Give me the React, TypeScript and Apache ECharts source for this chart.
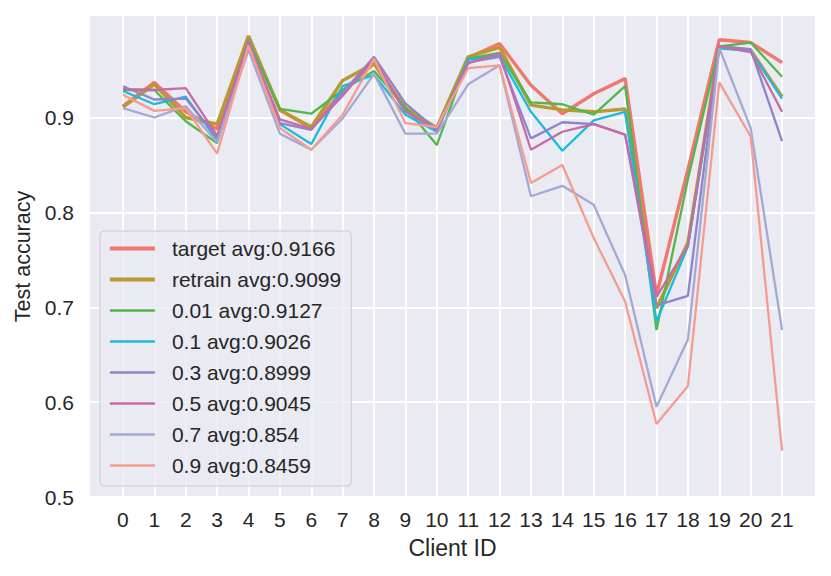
import React, { useEffect, useRef } from "react";
import * as echarts from "echarts";

const clients = [0, 1, 2, 3, 4, 5, 6, 7, 8, 9, 10, 11, 12, 13, 14, 15, 16, 17, 18, 19, 20, 21];
const yTicks = [0.5, 0.6, 0.7, 0.8, 0.9];

const seriesNames = [
  "target avg:0.9166",
  "retrain avg:0.9099",
  "0.01 avg:0.9127",
  "0.1 avg:0.9026",
  "0.3 avg:0.8999",
  "0.5 avg:0.9045",
  "0.7 avg:0.854",
  "0.9 avg:0.8459",
];

const target = [0.912, 0.937, 0.906, 0.888, 0.985, 0.908, 0.889, 0.928, 0.957, 0.908, 0.889, 0.963, 0.978, 0.934, 0.904, 0.925, 0.941, 0.713, 0.845, 0.982, 0.979, 0.958];
const retrain = [0.911, 0.935, 0.900, 0.893, 0.986, 0.908, 0.890, 0.939, 0.957, 0.910, 0.889, 0.964, 0.974, 0.913, 0.908, 0.906, 0.909, 0.699, 0.768, 0.975, 0.971, 0.922];
const p001 = [0.929, 0.929, 0.896, 0.873, 0.982, 0.909, 0.904, 0.929, 0.949, 0.911, 0.871, 0.962, 0.968, 0.916, 0.914, 0.903, 0.933, 0.676, 0.835, 0.975, 0.979, 0.943];
const p01 = [0.928, 0.914, 0.922, 0.876, 0.979, 0.893, 0.872, 0.933, 0.945, 0.903, 0.885, 0.961, 0.965, 0.906, 0.865, 0.897, 0.906, 0.685, 0.764, 0.973, 0.970, 0.920];
const p03 = [0.933, 0.919, 0.920, 0.879, 0.981, 0.894, 0.887, 0.926, 0.964, 0.915, 0.887, 0.958, 0.964, 0.878, 0.895, 0.893, 0.882, 0.702, 0.712, 0.975, 0.972, 0.875];
const p05 = [0.930, 0.929, 0.931, 0.881, 0.979, 0.898, 0.888, 0.923, 0.962, 0.906, 0.887, 0.957, 0.968, 0.866, 0.885, 0.893, 0.882, 0.711, 0.765, 0.975, 0.969, 0.906];
const p07 = [0.910, 0.900, 0.912, 0.874, 0.971, 0.883, 0.866, 0.899, 0.946, 0.883, 0.883, 0.935, 0.955, 0.817, 0.828, 0.808, 0.734, 0.595, 0.666, 0.973, 0.889, 0.676];
const p09 = [0.924, 0.907, 0.910, 0.862, 0.976, 0.889, 0.866, 0.903, 0.962, 0.894, 0.890, 0.952, 0.955, 0.831, 0.850, 0.773, 0.706, 0.577, 0.617, 0.937, 0.880, 0.549];

const seriesValues = [target, retrain, p001, p01, p03, p05, p07, p09];
const colors = ["#F0776E", "#B99A2E", "#52B64A", "#1ABBE0", "#8F84C8", "#C46BA8", "#A3A9D4", "#F59C90"];
const widths = [3.4, 3.4, 2.3, 2.3, 2.3, 2.3, 2.3, 2.3];

const FONT = "'Liberation Sans', Arial, sans-serif";
const TXT = "#262626";

export default function App() {
  const ref = useRef<HTMLDivElement>(null);
  useEffect(() => {
    if (!ref.current) return;
    const chart = echarts.init(ref.current, undefined, { renderer: "svg" });
    const gridLines = [
      ...clients.map((v) => ({ xAxis: v })),
      ...yTicks.map((v) => ({ yAxis: v })),
    ];
    const series: any[] = [
      {
        name: "grid",
        type: "line",
        data: [],
        z: 1,
        silent: true,
        markLine: {
          z: 1,
          silent: true,
          symbol: ["none", "none"],
          label: { show: false },
          emphasis: { disabled: true },
          lineStyle: { color: "#ffffff", width: 1.8, type: "solid" },
          data: gridLines,
        },
      },
      ...seriesNames.map((name, i) => ({
        name,
        type: "line",
        data: clients.map((c, j) => [c, seriesValues[i][j]]),
        showSymbol: false,
        symbol: "none",
        z: 8,
        lineStyle: { color: colors[i], width: widths[i] },
        itemStyle: { color: colors[i] },
        emphasis: { disabled: true },
      })),
    ];
    chart.setOption({
      animation: false,
      backgroundColor: "#ffffff",
      grid: {
        left: 90,
        right: 16,
        top: 16,
        bottom: 79,
        show: true,
        backgroundColor: "#EAEAF2",
        borderWidth: 0,
      },
      xAxis: {
        type: "value",
        min: -1.05,
        max: 22.05,
        name: "Client ID",
        nameLocation: "middle",
        nameGap: 39,
        nameTextStyle: { fontFamily: FONT, fontSize: 23, color: TXT },
        axisLine: { show: false },
        axisTick: { show: false },
        splitLine: { show: false },
        axisLabel: {
          customValues: clients,
          fontFamily: FONT,
          fontSize: 21,
          color: TXT,
          margin: 12,
          formatter: (v: number) => String(Math.round(v)),
        },
      },
      yAxis: {
        type: "value",
        min: 0.5,
        max: 1.007,
        name: "Test accuracy",
        nameLocation: "middle",
        nameGap: 56,
        nameTextStyle: { fontFamily: FONT, fontSize: 21.5, color: TXT },
        axisLine: { show: false },
        axisTick: { show: false },
        splitLine: { show: false },
        axisLabel: {
          customValues: yTicks,
          fontFamily: FONT,
          fontSize: 21,
          color: TXT,
          margin: 16,
          formatter: (v: number) => v.toFixed(1),
        },
      },
      legend: {
        data: seriesNames.map((name, i) => ({
          name,
          lineStyle: { width: widths[i] + 0.4, color: colors[i] },
        })),
        orient: "vertical",
        left: 100,
        top: 231,
        z: 20,
        padding: [5, 10, 8, 8],
        itemWidth: 45,
        itemHeight: 14,
        itemGap: 6,
        backgroundColor: "rgba(234,234,242,0.8)",
        borderColor: "#cccccc",
        borderWidth: 1,
        borderRadius: 4,
        selectedMode: false,
        itemStyle: { opacity: 0 },
        textStyle: {
          fontFamily: FONT,
          fontSize: 21,
          color: TXT,
          lineHeight: 25,
          padding: [0, 0, 0, 12],
        },
      },
      series,
    });
    return () => chart.dispose();
  }, []);
  return (
    <div
      ref={ref}
      style={{ position: "fixed", left: 0, top: 0, width: 831, height: 576 }}
    />
  );
}
